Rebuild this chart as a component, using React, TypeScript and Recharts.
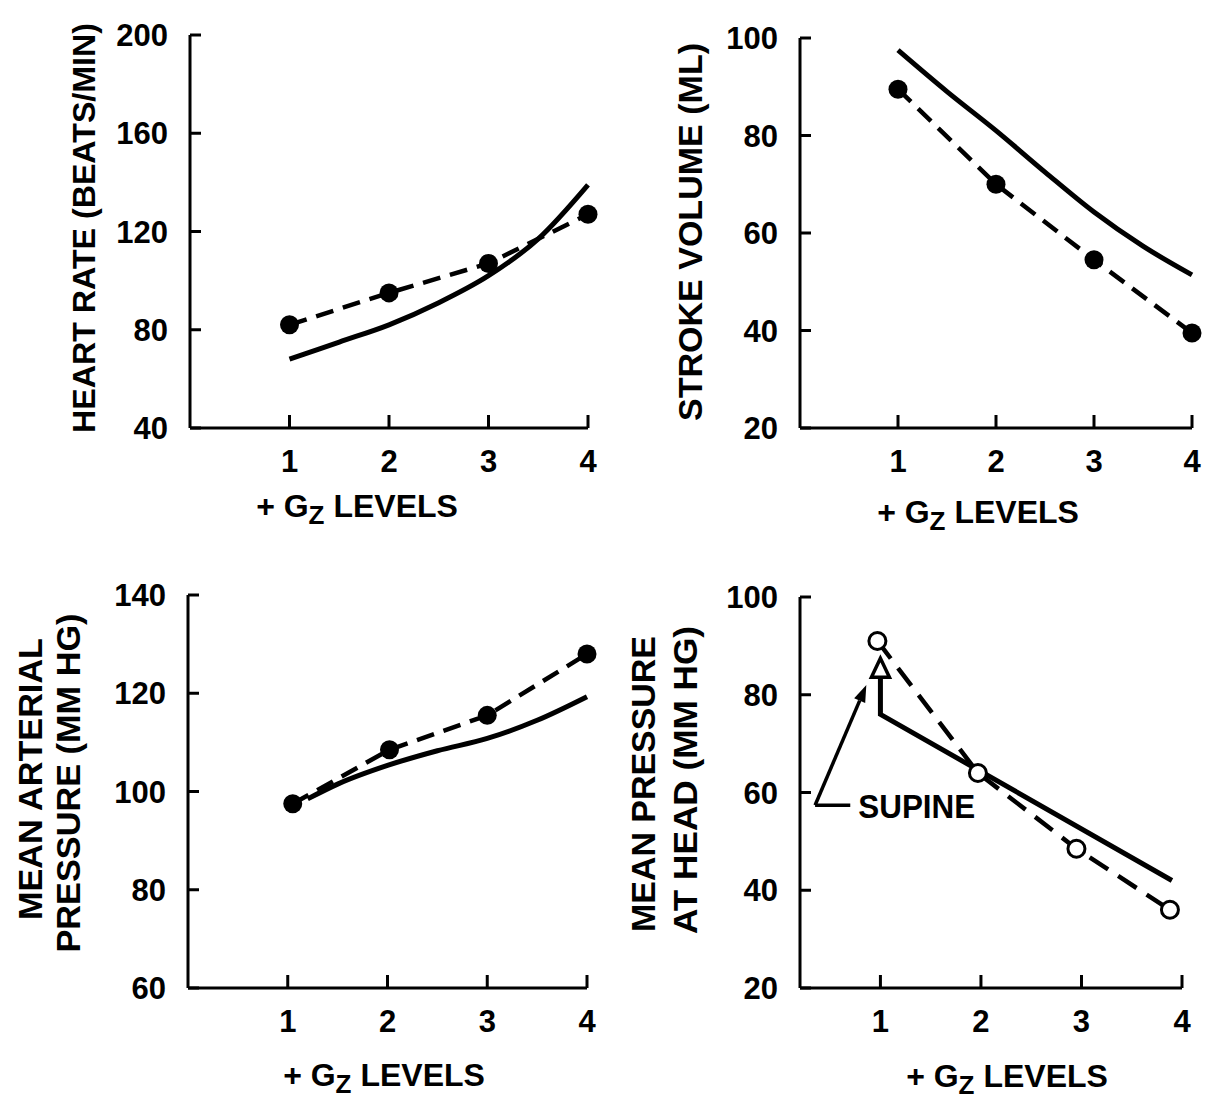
import React from 'react';
import { LineChart, Line, XAxis, YAxis, ReferenceLine } from 'recharts';

// +Gz levels shown on every x axis
const gzLevels = [1, 2, 3, 4];

// heart rate (beats/min)
const hrTicks = [40, 80, 120, 160, 200];
const hrMeasured = [
  { g: 1, v: 82 },
  { g: 2, v: 95 },
  { g: 3, v: 107 },
  { g: 4, v: 127 },
];
const hrModel = [
  { g: 1, v: 68 },
  { g: 1.5, v: 75 },
  { g: 2, v: 82 },
  { g: 2.5, v: 91 },
  { g: 3, v: 102 },
  { g: 3.5, v: 117 },
  { g: 4, v: 139 },
];

// stroke volume (ml)
const svTicks = [20, 40, 60, 80, 100];
const svMeasured = [
  { g: 1, v: 89.5 },
  { g: 2, v: 70 },
  { g: 3, v: 54.5 },
  { g: 4, v: 39.5 },
];
const svModel = [
  { g: 1, v: 97.5 },
  { g: 1.5, v: 89 },
  { g: 2, v: 81 },
  { g: 2.5, v: 72.5 },
  { g: 3, v: 64.3 },
  { g: 3.5, v: 57.3 },
  { g: 4, v: 51.4 },
];

// mean arterial pressure (mm Hg)
const mapTicks = [60, 80, 100, 120, 140];
const mapMeasured = [
  { g: 1.05, v: 97.5 },
  { g: 2.02, v: 108.5 },
  { g: 3, v: 115.5 },
  { g: 4, v: 128 },
];
const mapModel = [
  { g: 1.2, v: 98.5 },
  { g: 1.5, v: 101.5 },
  { g: 2, v: 105.3 },
  { g: 2.5, v: 108.3 },
  { g: 3, v: 110.8 },
  { g: 3.5, v: 114.5 },
  { g: 4, v: 119.3 },
];

// mean pressure at head (mm Hg)
const headTicks = [20, 40, 60, 80, 100];
const headMeasured = [
  { g: 0.97, v: 91 },
  { g: 1.97, v: 64 },
  { g: 2.95, v: 48.5 },
  { g: 3.88, v: 36 },
];
const headModel = [
  { g: 1, v: 85 },
  { g: 1, v: 76 },
  { g: 3.9, v: 42 },
];
// "SUPINE" pointer, in data units
const supineArrow = [
  { x: 0.35, y: 57.4 },
  { x: 0.86, y: 82 },
];
const supineTick = [
  { x: 0.35, y: 57.4 },
  { x: 0.7, y: 57.4 },
];

const FONT = "'Liberation Sans', Arial, Helvetica, sans-serif";
const W = 603;
const H = 550;

const tickStyle = { fill: '#000', fontSize: 31, fontWeight: 700, fontFamily: FONT };

function YTitle({ lines }) {
  return (
    <g>
      {lines.map((l) => (
        <text
          key={l.text}
          x={l.x}
          y={l.cy}
          transform={`rotate(-90, ${l.x}, ${l.cy})`}
          textAnchor="middle"
          dominantBaseline="central"
          fontFamily={FONT}
          fontWeight={700}
          fontSize={l.size}
          textLength={l.len}
          lengthAdjust="spacingAndGlyphs"
          fill="#000"
        >
          {l.text}
        </text>
      ))}
    </g>
  );
}

function GzTitle({ cx, y }) {
  return (
    <text x={cx} y={y} textAnchor="middle" fontFamily={FONT} fontWeight={700} fontSize={32} fill="#000">
      + G
      <tspan fontSize={26} dy={7}>Z</tspan>
      <tspan dy={-7}> LEVELS</tspan>
    </text>
  );
}

const filledDot = (p) => <circle key={`d${p.index}`} cx={p.cx} cy={p.cy} r={9.5} fill="#000" stroke="none" />;
const openDot = (p) => (
  <circle key={`d${p.index}`} cx={p.cx} cy={p.cy} r={8.5} fill="#fff" stroke="#000" strokeWidth={3} />
);
// open triangle marks the supine value on the model line
const triangleDot = (p) =>
  p.index === 0 ? (
    <polygon
      key="tri"
      points={`${p.cx},${p.cy - 12} ${p.cx - 9},${p.cy + 7} ${p.cx + 9},${p.cy + 7}`}
      fill="#fff"
      stroke="#000"
      strokeWidth={3.5}
    />
  ) : (
    <g key={`t${p.index}`} />
  );

function Panel({
  left,
  top,
  margin,
  xDomain,
  yDomain,
  yTicks,
  model,
  measured,
  modelType = 'monotone',
  modelDot = false,
  dot = filledDot,
  dash = '18 10',
  yTitle,
  xTitle,
  children,
}) {
  return (
    <div style={{ position: 'absolute', left, top, width: W, height: H }}>
      <LineChart width={W} height={H} margin={margin}>
        <XAxis
          dataKey="g"
          type="number"
          domain={xDomain}
          ticks={gzLevels}
          interval={0}
          height={60}
          tickSize={-13}
          tickMargin={35}
          tick={tickStyle}
          axisLine={{ stroke: '#000', strokeWidth: 3 }}
          tickLine={{ stroke: '#000', strokeWidth: 3 }}
          label={{ content: () => <GzTitle cx={xTitle.cx} y={xTitle.y} /> }}
        />
        <YAxis
          type="number"
          domain={yDomain}
          ticks={yTicks}
          interval={0}
          width={60}
          tickSize={-11}
          tickMargin={33}
          tick={tickStyle}
          axisLine={{ stroke: '#000', strokeWidth: 3 }}
          tickLine={{ stroke: '#000', strokeWidth: 3 }}
          label={{ content: () => <YTitle lines={yTitle} /> }}
        />
        <Line
          data={model}
          dataKey="v"
          type={modelType}
          stroke="#000"
          strokeWidth={5}
          dot={modelDot}
          activeDot={false}
          isAnimationActive={false}
        />
        <Line
          data={measured}
          dataKey="v"
          type="linear"
          stroke="#000"
          strokeWidth={4.5}
          strokeDasharray={dash}
          dot={dot}
          activeDot={false}
          isAnimationActive={false}
        />
        {children}
      </LineChart>
    </div>
  );
}

const arrowShape = (p) => {
  const { x1, y1, x2, y2 } = p;
  const a = Math.atan2(y2 - y1, x2 - x1);
  const len = 17;
  const half = 6;
  const bx = x2 - len * Math.cos(a);
  const by = y2 - len * Math.sin(a);
  const nx = -Math.sin(a) * half;
  const ny = Math.cos(a) * half;
  return (
    <g>
      <line x1={x1} y1={y1} x2={bx} y2={by} stroke="#000" strokeWidth={3.5} />
      <polygon points={`${x2},${y2} ${bx + nx},${by + ny} ${bx - nx},${by - ny}`} fill="#000" />
    </g>
  );
};

const supineShape = (p) => {
  const { x1, y1, x2, y2 } = p;
  return (
    <g>
      <line x1={x1} y1={y1} x2={x2} y2={y2} stroke="#000" strokeWidth={3.5} />
      <text
        x={x2 + 8}
        y={y2 + 13}
        fontFamily={FONT}
        fontWeight={700}
        fontSize={34}
        textLength={117}
        lengthAdjust="spacingAndGlyphs"
        fill="#000"
      >
        SUPINE
      </text>
    </g>
  );
};

export default function App() {
  return (
    <div style={{ position: 'absolute', left: 0, top: 0, width: 1206, height: 1100, background: '#fff' }}>
      <Panel
        left={0}
        top={0}
        margin={{ top: 35, right: 15, bottom: 62, left: 130 }}
        xDomain={[0, 4]}
        yDomain={[40, 200]}
        yTicks={hrTicks}
        model={hrModel}
        measured={hrMeasured}
        yTitle={[{ text: 'HEART RATE (BEATS/MIN)', x: 84, cy: 228, len: 410, size: 31 }]}
        xTitle={{ cx: 357, y: 517 }}
      />
      <Panel
        left={603}
        top={0}
        margin={{ top: 38, right: 14, bottom: 62, left: 137 }}
        xDomain={[0, 4]}
        yDomain={[20, 100]}
        yTicks={svTicks}
        model={svModel}
        measured={svMeasured}
        yTitle={[{ text: 'STROKE VOLUME (ML)', x: 87, cy: 232, len: 378, size: 34 }]}
        xTitle={{ cx: 375, y: 523 }}
      />
      <Panel
        left={0}
        top={550}
        margin={{ top: 45, right: 16, bottom: 52, left: 128 }}
        xDomain={[0, 4]}
        yDomain={[60, 140]}
        yTicks={mapTicks}
        model={mapModel}
        measured={mapMeasured}
        yTitle={[
          { text: 'MEAN ARTERIAL', x: 30, cy: 229, len: 282, size: 34 },
          { text: 'PRESSURE (MM HG)', x: 68, cy: 233, len: 339, size: 34 },
        ]}
        xTitle={{ cx: 384, y: 536 }}
      />
      <Panel
        left={603}
        top={550}
        margin={{ top: 47, right: 24, bottom: 52, left: 137 }}
        xDomain={[0.2, 4]}
        yDomain={[20, 100]}
        yTicks={headTicks}
        model={headModel}
        modelType="linear"
        modelDot={triangleDot}
        measured={headMeasured}
        dot={openDot}
        dash="22 12"
        yTitle={[
          { text: 'MEAN PRESSURE', x: 40, cy: 234, len: 296, size: 34 },
          { text: 'AT HEAD (MM HG)', x: 82, cy: 230, len: 308, size: 34 },
        ]}
        xTitle={{ cx: 404, y: 537 }}
      >
        <ReferenceLine segment={supineArrow} shape={arrowShape} />
        <ReferenceLine segment={supineTick} shape={supineShape} />
      </Panel>
    </div>
  );
}
